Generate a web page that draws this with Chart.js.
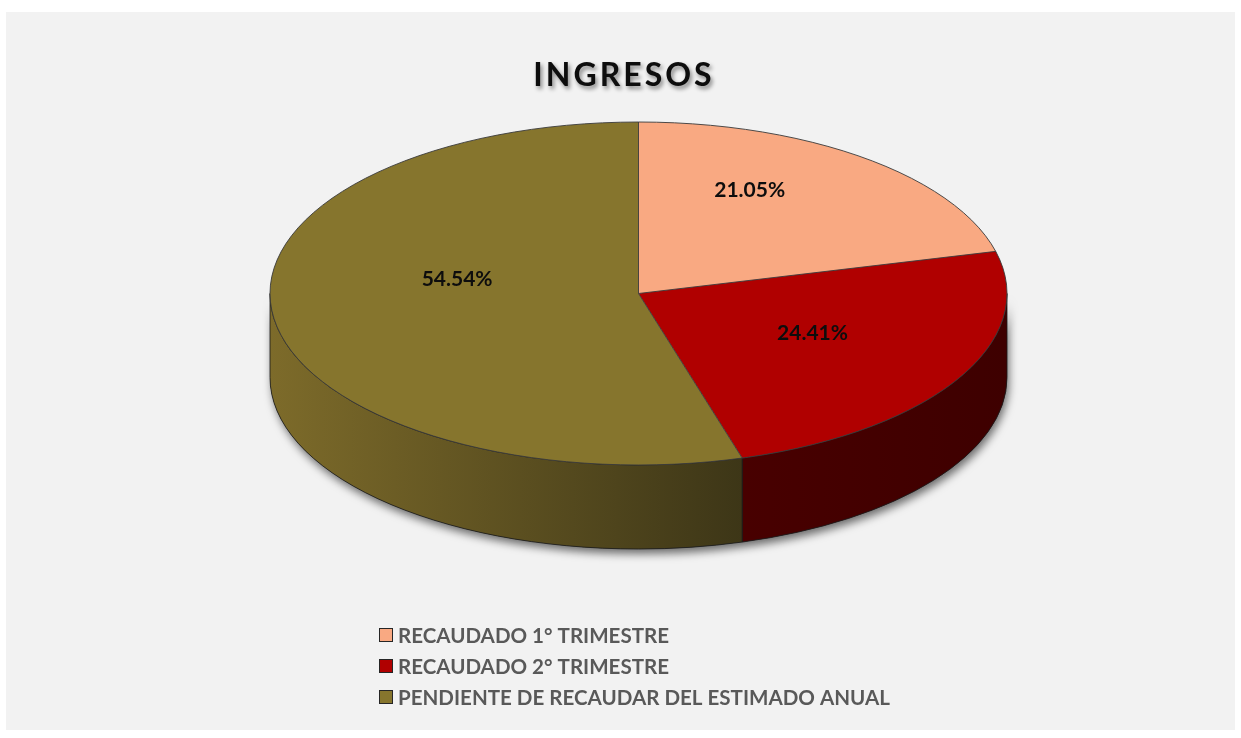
<!DOCTYPE html>
<html>
<head>
<meta charset="utf-8">
<script src="https://cdn.jsdelivr.net/npm/chart.js@4"></script>
<style>
  html, body { margin: 0; padding: 0; background: #ffffff; }
  #wrap { width: 1241px; height: 738px; }
</style>
</head>
<body>
<div id="wrap"><canvas id="graph" width="1241" height="738"></canvas></div>
<script>
const categories = ['RECAUDADO 1° TRIMESTRE', 'RECAUDADO 2° TRIMESTRE', 'PENDIENTE DE RECAUDAR DEL ESTIMADO ANUAL'];
const values = [21.05, 24.41, 54.54];
const topColors = ['#F9A982', '#B00000', '#86752D'];
const sideColors = [['#d08a68', '#b87458'], ['#480000', '#3e0000'], ['#7d6b2a', '#3d3617']];
const labelShift = [[-2, -36], [14, -3], [1, -26]];

// geometry of the tilted pie
const cx = 638.5, cy = 293.5, rx = 368.5, ry = 171.5, depth = 84;

function sidePath(ctx, s, e) {
    ctx.beginPath();
    ctx.ellipse(cx, cy, rx, ry, 0, s, e);
    ctx.ellipse(cx, cy + depth, rx, ry, 0, e, s, true);
    ctx.closePath();
}

function visibleParts(a1, a2) {
    const parts = [];
    [0, 2 * Math.PI, -2 * Math.PI].forEach(function (off) {
        const s = Math.max(a1, off), e = Math.min(a2, off + Math.PI);
        if (e > s) parts.push([s - off, e - off]);
    });
    return parts;
}

const pie3d = {
    id: 'pie3d',
    beforeDraw(chart) {
        const ctx = chart.ctx;
        ctx.save();
        ctx.fillStyle = '#f2f2f2';
        ctx.fillRect(6, 12, 1229, 718);

        // title
        ctx.font = 'bold 32px Lato, "Open Sans", sans-serif';
        ctx.letterSpacing = '3px';
        ctx.textAlign = 'center';
        ctx.textBaseline = 'middle';
        ctx.shadowColor = 'rgba(0,0,0,0.45)';
        ctx.shadowBlur = 4;
        ctx.shadowOffsetX = 2;
        ctx.shadowOffsetY = 3;
        ctx.fillStyle = '#0d0d0d';
        ctx.fillText('INGRESOS', 624, 76);
        ctx.restore();

        // legend
        ctx.save();
        ctx.font = 'bold 18px Lato, "Open Sans", sans-serif';
        const w = ctx.measureText(categories[2]).width;
        const size = 18 * 492 / w;
        ctx.font = 'bold ' + size.toFixed(2) + 'px Lato, "Open Sans", sans-serif';
        ctx.textBaseline = 'middle';
        ctx.textAlign = 'left';
        categories.forEach(function (c, i) {
            const y = 635 + i * 31;
            ctx.fillStyle = topColors[i];
            ctx.fillRect(379.5, y - 6.5, 13, 13);
            ctx.strokeStyle = '#262626';
            ctx.lineWidth = 1;
            ctx.strokeRect(379.5, y - 6.5, 13, 13);
            ctx.fillStyle = '#595959';
            ctx.fillText(c, 398, y + 1);
        });
        ctx.restore();
    },
    beforeDatasetsDraw(chart) {
        const ctx = chart.ctx;
        const arcs = chart.getDatasetMeta(0).data;
        const a0 = arcs[0];

        // shadow under body
        ctx.save();
        sidePath(ctx, 0, Math.PI);
        ctx.shadowColor = 'rgba(0,0,0,0.55)';
        ctx.shadowBlur = 9;
        ctx.shadowOffsetX = 2;
        ctx.shadowOffsetY = 5;
        ctx.fillStyle = '#333';
        ctx.fill();
        ctx.restore();

        // side walls
        ctx.save();
        arcs.forEach(function (arc, i) {
            visibleParts(arc.startAngle, arc.endAngle).forEach(function (p) {
                const x1 = cx + rx * Math.cos(p[1]);
                const x0 = cx + rx * Math.cos(p[0]);
                const g = ctx.createLinearGradient(Math.min(x0, x1), 0, Math.max(x0, x1), 0);
                g.addColorStop(0, sideColors[i][0]);
                g.addColorStop(1, sideColors[i][1]);
                sidePath(ctx, p[0], p[1]);
                ctx.fillStyle = g;
                ctx.fill();
                ctx.strokeStyle = '#1a1a1a';
                ctx.lineWidth = 0.8;
                ctx.stroke();
            });
        });
        ctx.restore();

        // squash the library's pie onto the top face
        ctx.save();
        ctx.translate(cx, cy);
        ctx.scale(rx / a0.outerRadius, ry / a0.outerRadius);
        ctx.translate(-a0.x, -a0.y);
    },
    afterDatasetsDraw(chart) {
        const ctx = chart.ctx;
        ctx.restore();
        const arcs = chart.getDatasetMeta(0).data;
        const a0 = arcs[0];
        const sx = rx / a0.outerRadius, sy = ry / a0.outerRadius;

        // outlines of the top face
        ctx.save();
        ctx.strokeStyle = '#3a3a3a';
        ctx.lineWidth = 0.9;
        ctx.beginPath();
        ctx.ellipse(cx, cy, rx, ry, 0, 0, Math.PI * 2);
        ctx.stroke();
        arcs.forEach(function (arc) {
            ctx.beginPath();
            ctx.moveTo(cx, cy);
            ctx.lineTo(cx + rx * Math.cos(arc.startAngle), cy + ry * Math.sin(arc.startAngle));
            ctx.stroke();
        });
        ctx.restore();

        // percentage labels
        ctx.save();
        ctx.font = 'bold 21px Lato, "Open Sans", sans-serif';
        ctx.fillStyle = '#0d0d0d';
        ctx.textAlign = 'center';
        ctx.textBaseline = 'middle';
        arcs.forEach(function (arc, i) {
            const p = arc.tooltipPosition();
            const x = cx + (p.x - arc.x) * sx + labelShift[i][0];
            const y = cy + (p.y - arc.y) * sy + labelShift[i][1];
            ctx.fillText(values[i].toFixed(2) + '%', x, y);
        });
        ctx.restore();
    }
};

const data = {
    labels: categories,
    datasets: [{
        data: values,
        backgroundColor: topColors,
        borderWidth: 0,
        clip: false
    }]
};

const config = {
    type: 'pie',
    data: data,
    options: {
        responsive: false,
        animation: false,
        events: [],
        layout: { padding: { top: 100, bottom: 150 } },
        plugins: {
            legend: { display: false },
            tooltip: { enabled: false }
        }
    },
    plugins: [pie3d]
};

const graph = document.querySelector('#graph');
new Chart(graph, config);
</script>
</body>
</html>
